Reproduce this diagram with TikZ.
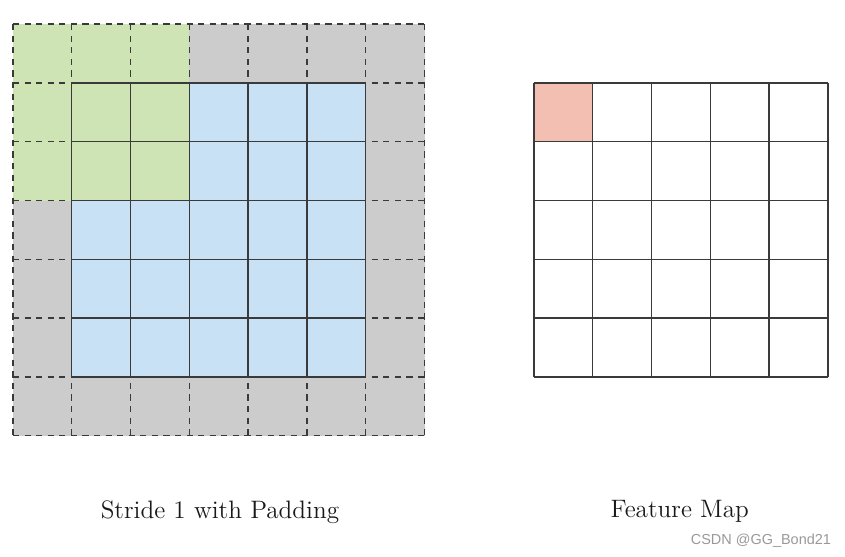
\documentclass[tikz,border=0pt]{standalone}
\usepackage{fontspec}
\newfontfamily\markfont{Liberation Sans}
\definecolor{padgray}{HTML}{CCCCCC}
\definecolor{inblue}{HTML}{C8E1F4}
\definecolor{kgreen}{HTML}{CFE4B4}
\definecolor{outred}{HTML}{F3BFB3}
\definecolor{linedark}{HTML}{3A3A3A}
\usetikzlibrary{positioning}

\begin{document}
\begin{tikzpicture}[
  gridline/.style={draw=linedark, line width=0.65pt},
  dashline/.style={draw=linedark, line width=0.65pt,
                   dash pattern=on 3pt off 2.6pt},
  caption/.style={font=\fontsize{12.2}{14}\selectfont, text=black!90},
  wmark/.style={font=\markfont\fontsize{7}{9}\selectfont, text=black!40}
]
\useasboundingbox (0,0) rectangle (14.37,-9.47);

%% Input with padding
\begin{scope}[shift={(0.22,-0.41)}]
  \fill[padgray] (0,0) rectangle (7,-7);
  \fill[inblue] (1,-1) rectangle (6,-6);
  \fill[kgreen] (0,0) rectangle (3,-3);
  \foreach \i in {0,...,7} {
    \draw[dashline] (\i,0) -- (\i,-7);
    \draw[dashline] (0,-\i) -- (7,-\i);
  }
  \foreach \i in {1,...,6} {
    \draw[gridline] (\i,-1) -- (\i,-6);
    \draw[gridline] (1,-\i) -- (6,-\i);
  }
\end{scope}

%% Feature map
\begin{scope}[shift={(9.08,-1.41)}]
  \fill[outred] (0,0) rectangle (1,-1);
  \foreach \i in {0,...,5} {
    \draw[gridline] (\i,0) -- (\i,-5);
    \draw[gridline] (0,-\i) -- (5,-\i);
  }
\end{scope}

\node[caption] (padlabel) at (3.74,-8.71) {Stride 1 with Padding};
\node[caption] (maplabel) at (11.56,-8.69) {Feature Map};
\node[wmark] (credit) at (12.94,-9.2) {CSDN @GG\_Bond21};

\end{tikzpicture}
\end{document}
